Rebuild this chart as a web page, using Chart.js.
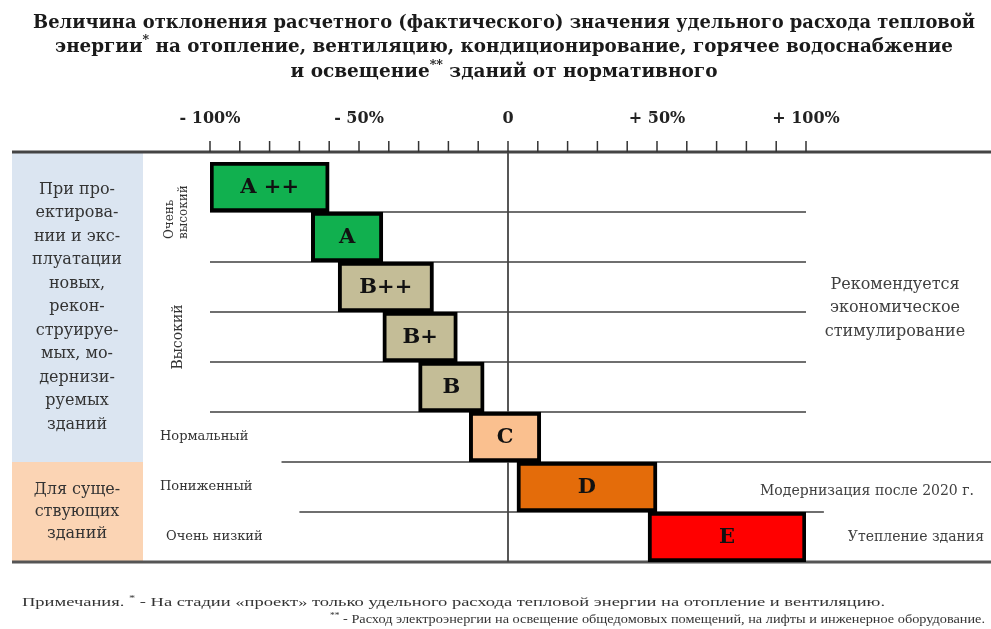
<!DOCTYPE html>
<html>
<head>
<meta charset="utf-8">
<script src="https://cdn.jsdelivr.net/npm/chart.js@4.4.1/dist/chart.umd.min.js"></script>
<style>
html, body { margin: 0; padding: 0; background: #fff; }
#wrap { width: 991px; height: 629px; position: relative; }
</style>
</head>
<body>
<div id="wrap"><canvas id="chart"></canvas></div>
<script>
"use strict"

// energy classes, top to bottom
var classes = ["A++", "A", "B++", "B+", "B", "C", "D", "E"];
var classLabels = ["A ++", "A", "B++", "B+", "B", "C", "D", "E"];
// deviation from the norm, %
var rangeFrom = [-100, -66, -57, -42, -30, -13, 3, 47];
var rangeTo = [-60, -42, -25, -17, -8, 11, 50, 100];
var classColors = ["#11b04f", "#11b04f", "#c4bd97", "#c4bd97", "#c4bd97", "#fac08f", "#e46c0a", "#ff0000"];
var tickLabels = {"-100": "- 100%", "-50": "- 50%", "0": "0", "50": "+ 50%", "100": "+ 100%"};

var titleLines = [
    [["Величина отклонения расчетного (фактического) значения удельного расхода тепловой", false]],
    [["энергии", false], ["*", true], [" на отопление, вентиляцию, кондиционирование, горячее водоснабжение", false]],
    [["и освещение", false], ["**", true], [" зданий от нормативного", false]]
];
var titleWidths = [942, 898, 427];
var panelNew = ["При про-", "ектирова-", "нии и экс-", "плуатации", "новых,", "рекон-", "струируе-", "мых, мо-", "дернизи-", "руемых", "зданий"];
var panelOld = ["Для суще-", "ствующих", "зданий"];
var advice = ["Рекомендуется", "экономическое", "стимулирование"];
var notes = [
    [["Примечания. ", false], ["*", true], [" - На стадии «проект» только удельного расхода тепловой энергии на отопление и вентиляцию.", false]],
    [["**", true], [" - Расход электроэнергии на освещение общедомовых помещений, на лифты и инженерное оборудование.", false]]
];

var SERIF = "'DejaVu Serif', serif";
var TIMES = "'Liberation Serif', serif";

function drawRich(ctx, segs, x, y, size, weight, family, align, width, color){
    var font = weight + " " + size + "px " + family;
    var supFont = weight + " " + Math.round(size * 0.7) + "px " + family;
    var widths = [];
    var total = 0;
    for (var i in segs){
        ctx.font = segs[i][1] ? supFont : font;
        var w = ctx.measureText(segs[i][0]).width;
        widths.push(w);
        total += w;
    }
    var sx = width ? width / total : 1;
    var start = x;
    if (align == "center") start = x - total * sx / 2;
    if (align == "right") start = x - total * sx;
    ctx.save();
    ctx.translate(start, y);
    ctx.scale(sx, 1);
    ctx.textAlign = "left";
    ctx.textBaseline = "middle";
    ctx.fillStyle = color || "#222";
    var cx = 0;
    for (var i in segs){
        ctx.font = segs[i][1] ? supFont : font;
        ctx.fillText(segs[i][0], cx, segs[i][1] ? -size * 0.35 : 0);
        cx += widths[i];
    }
    ctx.restore();
}

function hline(ctx, x1, x2, y, w, color){
    ctx.beginPath();
    ctx.lineWidth = w;
    ctx.strokeStyle = color;
    ctx.moveTo(x1, y);
    ctx.lineTo(x2, y);
    ctx.stroke();
}

function rowEdge(chart, i){
    var ys = chart.scales.y;
    var half = (ys.getPixelForValue(1) - ys.getPixelForValue(0)) / 2;
    return ys.getPixelForValue(i) - half;
}

var backdrop = {
    id: "backdrop",
    beforeDatasetsDraw: function(chart){
        var ctx = chart.ctx;
        var xs = chart.scales.x;
        var area = chart.chartArea;
        var top = area.top - 10;
        var bottom = rowEdge(chart, 8);
        var w = chart.width;

        // left panel
        ctx.fillStyle = "#dbe5f1";
        ctx.fillRect(12, top, 131, rowEdge(chart, 6) - top);
        ctx.fillStyle = "#fbd4b4";
        ctx.fillRect(12, rowEdge(chart, 6), 131, bottom - rowEdge(chart, 6));

        // row separators
        for (var i = 1; i <= 5; i++){
            hline(ctx, xs.getPixelForValue(-100), xs.getPixelForValue(100), rowEdge(chart, i), 2, "#6f6f6f");
        }
        hline(ctx, xs.getPixelForValue(-76), w, rowEdge(chart, 6), 2, "#6f6f6f");
        hline(ctx, xs.getPixelForValue(-70), xs.getPixelForValue(106), rowEdge(chart, 7), 2, "#6f6f6f");
        hline(ctx, 12, w, bottom, 3, "#555");
        hline(ctx, 12, w, top, 3, "#444");

        // zero line
        ctx.beginPath();
        ctx.lineWidth = 1.8;
        ctx.strokeStyle = "#444";
        ctx.moveTo(xs.getPixelForValue(0), top);
        ctx.lineTo(xs.getPixelForValue(0), bottom);
        ctx.stroke();

        // ruler
        ctx.beginPath();
        ctx.lineWidth = 1.5;
        ctx.strokeStyle = "#333";
        for (var v = -100; v <= 100; v += 10){
            var px = xs.getPixelForValue(v);
            ctx.moveTo(px, top - 11);
            ctx.lineTo(px, top);
        }
        ctx.stroke();
    },
    afterDatasetsDraw: function(chart){
        var ctx = chart.ctx;
        var ys = chart.scales.y;
        var meta = chart.getDatasetMeta(0);

        // class names inside bars
        for (var i in meta.data){
            var bar = meta.data[i];
            drawRich(ctx, [[classLabels[i], false]], (bar.x + bar.base) / 2, bar.y + 1, 21, "bold", SERIF, "center", 0, "#111");
        }

        // title
        for (var i in titleLines){
            drawRich(ctx, titleLines[i], 504, 23 + i * 24.5, 19, "bold", SERIF, "center", titleWidths[i], "#1a1a1a");
        }

        // left panel text
        var top = chart.chartArea.top - 10;
        var mid = (top + rowEdge(chart, 6)) / 2;
        for (var i = 0; i < panelNew.length; i++){
            drawRich(ctx, [[panelNew[i], false]], 77, mid + (i - (panelNew.length - 1) / 2) * 23.5, 16, "normal", SERIF, "center", 0, "#333");
        }
        mid = (rowEdge(chart, 6) + rowEdge(chart, 8)) / 2;
        for (var i = 0; i < panelOld.length; i++){
            drawRich(ctx, [[panelOld[i], false]], 77, mid + (i - 1) * 22, 16, "normal", SERIF, "center", 0, "#333");
        }

        // level names
        ctx.save();
        ctx.translate(170, 239);
        ctx.rotate(-Math.PI / 2);
        drawRich(ctx, [["Очень", false]], 0, 0, 12, "normal", SERIF, "left", 0, "#333");
        drawRich(ctx, [["высокий", false]], 0, 14, 12, "normal", SERIF, "left", 0, "#333");
        ctx.restore();
        ctx.save();
        ctx.translate(178, ys.getPixelForValue(3));
        ctx.rotate(-Math.PI / 2);
        drawRich(ctx, [["Высокий", false]], 0, 0, 14, "normal", SERIF, "center", 0, "#333");
        ctx.restore();
        drawRich(ctx, [["Нормальный", false]], 160, ys.getPixelForValue(5), 13, "normal", SERIF, "left", 0, "#333");
        drawRich(ctx, [["Пониженный", false]], 160, ys.getPixelForValue(6), 13, "normal", SERIF, "left", 0, "#333");
        drawRich(ctx, [["Очень низкий", false]], 166, ys.getPixelForValue(7), 13, "normal", SERIF, "left", 0, "#333");

        // right notes
        for (var i = 0; i < advice.length; i++){
            drawRich(ctx, [[advice[i], false]], 895, rowEdge(chart, 3) - 4 + (i - 1) * 23.5, 16, "normal", SERIF, "center", 0, "#404040");
        }
        drawRich(ctx, [["Модернизация после 2020 г.", false]], 974, ys.getPixelForValue(6) + 4, 14, "normal", SERIF, "right", 0, "#404040");
        drawRich(ctx, [["Утепление здания", false]], 984, ys.getPixelForValue(7), 14, "normal", SERIF, "right", 0, "#404040");

        // footnotes
        drawRich(ctx, notes[0], 22, 603, 12, "normal", TIMES, "left", 863, "#333");
        drawRich(ctx, notes[1], 330, 620, 12, "normal", TIMES, "left", 655, "#333");
    }
};

var chart = new Chart(document.getElementById("chart"), {
    type: "bar",
    data: {
        labels: classes,
        datasets: [{
            data: classes.map(function(c, i){ return [rangeFrom[i], rangeTo[i]]; }),
            backgroundColor: classColors,
            borderColor: "#000",
            borderWidth: 4,
            borderSkipped: false,
            barPercentage: 1,
            categoryPercentage: 1
        }]
    },
    options: {
        indexAxis: "y",
        responsive: true,
        maintainAspectRatio: false,
        animation: false,
        layout: { padding: { left: 210, right: 185, top: 0, bottom: 67 } },
        plugins: {
            legend: { display: false },
            tooltip: { enabled: false }
        },
        scales: {
            x: {
                position: "top",
                min: -100,
                max: 100,
                afterFit: function(scale){ scale.height = 162; },
                grid: { display: false, drawTicks: false },
                border: { display: false },
                ticks: {
                    stepSize: 10,
                    autoSkip: false,
                    maxRotation: 0,
                    padding: 34,
                    color: "#222",
                    font: { family: SERIF, size: 16, weight: "bold" },
                    callback: function(v){ return tickLabels[v] || ""; }
                }
            },
            y: {
                display: false
            }
        }
    },
    plugins: [backdrop]
});
</script>
</body>
</html>
